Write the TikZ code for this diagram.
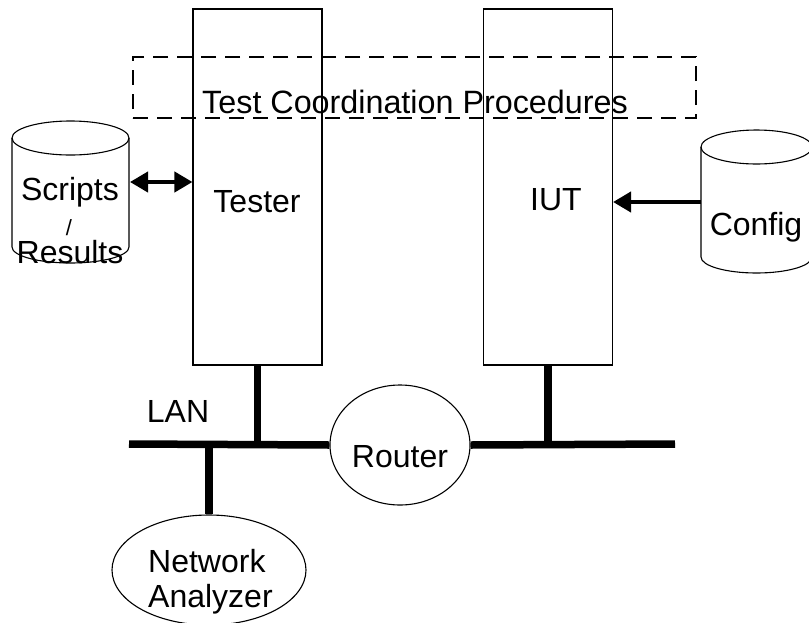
\documentclass[tikz,border=0pt]{standalone}
\usepackage{fontspec}
\setmainfont{Liberation Sans}
\usetikzlibrary{arrows.meta,shapes.geometric}
\begin{document}
\begin{tikzpicture}[x=1pt,y=-1pt,
  lbl/.style={font=\fontsize{32}{36}\selectfont, inner sep=0pt, anchor=base},
  smalllbl/.style={font=\fontsize{22}{26}\selectfont, inner sep=0pt, anchor=base},
  unitbox/.style={draw, line width=1.1pt, minimum width=129pt, minimum height=356pt, inner sep=0pt},
  dashbox/.style={draw, line width=1.8pt, dash pattern=on 15pt off 9pt, minimum width=563pt, minimum height=61pt, inner sep=0pt},
  oval/.style={draw, ellipse, line width=1.1pt, inner sep=0pt},
  lan/.style={line width=7.5pt},
  cyl/.style={line width=1.1pt},
  arr/.style={line width=4pt, -{Triangle[length=18pt,width=20pt]}},
  darr/.style={line width=4pt, {Triangle[length=18pt,width=20pt]}-{Triangle[length=18pt,width=20pt]}}
]
\useasboundingbox (0,0) rectangle (809,622);

% units
\node[unitbox] (tester) at (257.5,187) {};
\node[unitbox] (iut) at (548,187) {};

% dashed coordination box
\node[dashbox] (tcp) at (414.5,87.5) {};
\node[lbl, font=\fontsize{32.3}{36}\selectfont] (tcptext) at (415,113) {Test Coordination Procedures};

\node[lbl] (testertext) at (257,212) {Tester};
\node[lbl] (iuttext) at (556,210) {IUT};

% left cylinder
\draw[cyl, fill=white] (12,138) -- (12,247) arc[start angle=180, end angle=360, x radius=58.5pt, y radius=16pt] -- (129,138);
\draw[cyl] (70.5,138) ellipse [x radius=58.5pt, y radius=17pt];
\node[lbl] (scripts) at (70,200) {Scripts};
\node[smalllbl] (slash) at (69,235) {/};
\node[lbl] (results) at (70,263) {Results};
\coordinate (scr) at (130,182);

% right cylinder
\draw[cyl, fill=white] (701,147) -- (701,257) arc[start angle=180, end angle=360, x radius=55.5pt, y radius=16pt] -- (812,147);
\draw[cyl] (756.5,147) ellipse [x radius=55.5pt, y radius=17pt];
\node[lbl] (config) at (756,235) {Config};
\coordinate (cfg) at (701,202);

% arrows
\draw[darr] (scr) -- (tester.west |- scr);
\draw[arr] (cfg) -- (iut.east |- cfg);

% LAN
\node[oval, minimum width=140pt, minimum height=120pt] (router) at (400,445) {};
\node[lbl] (routertext) at (400,467) {Router};
\coordinate (lanL) at (129,444);
\coordinate (lanR) at (675,444);
\draw[lan] (lanL) -- (router.west);
\draw[lan] (router.east) -- (lanR);
\draw[lan] (tester.south) -- (tester.south |- lanL);
\draw[lan] (iut.south) -- (iut.south |- lanR);
\node[lbl] (lantext) at (178,422) {LAN};

\node[oval, minimum width=194pt, minimum height=110pt] (na) at (209,570) {};
\draw[lan] (na.north |- lanL) -- (na.north);
\node[lbl, anchor=base west] (natext1) at (148,572) {Network};
\node[lbl, anchor=base west] (natext2) at (148,607) {Analyzer};
\end{tikzpicture}
\end{document}
